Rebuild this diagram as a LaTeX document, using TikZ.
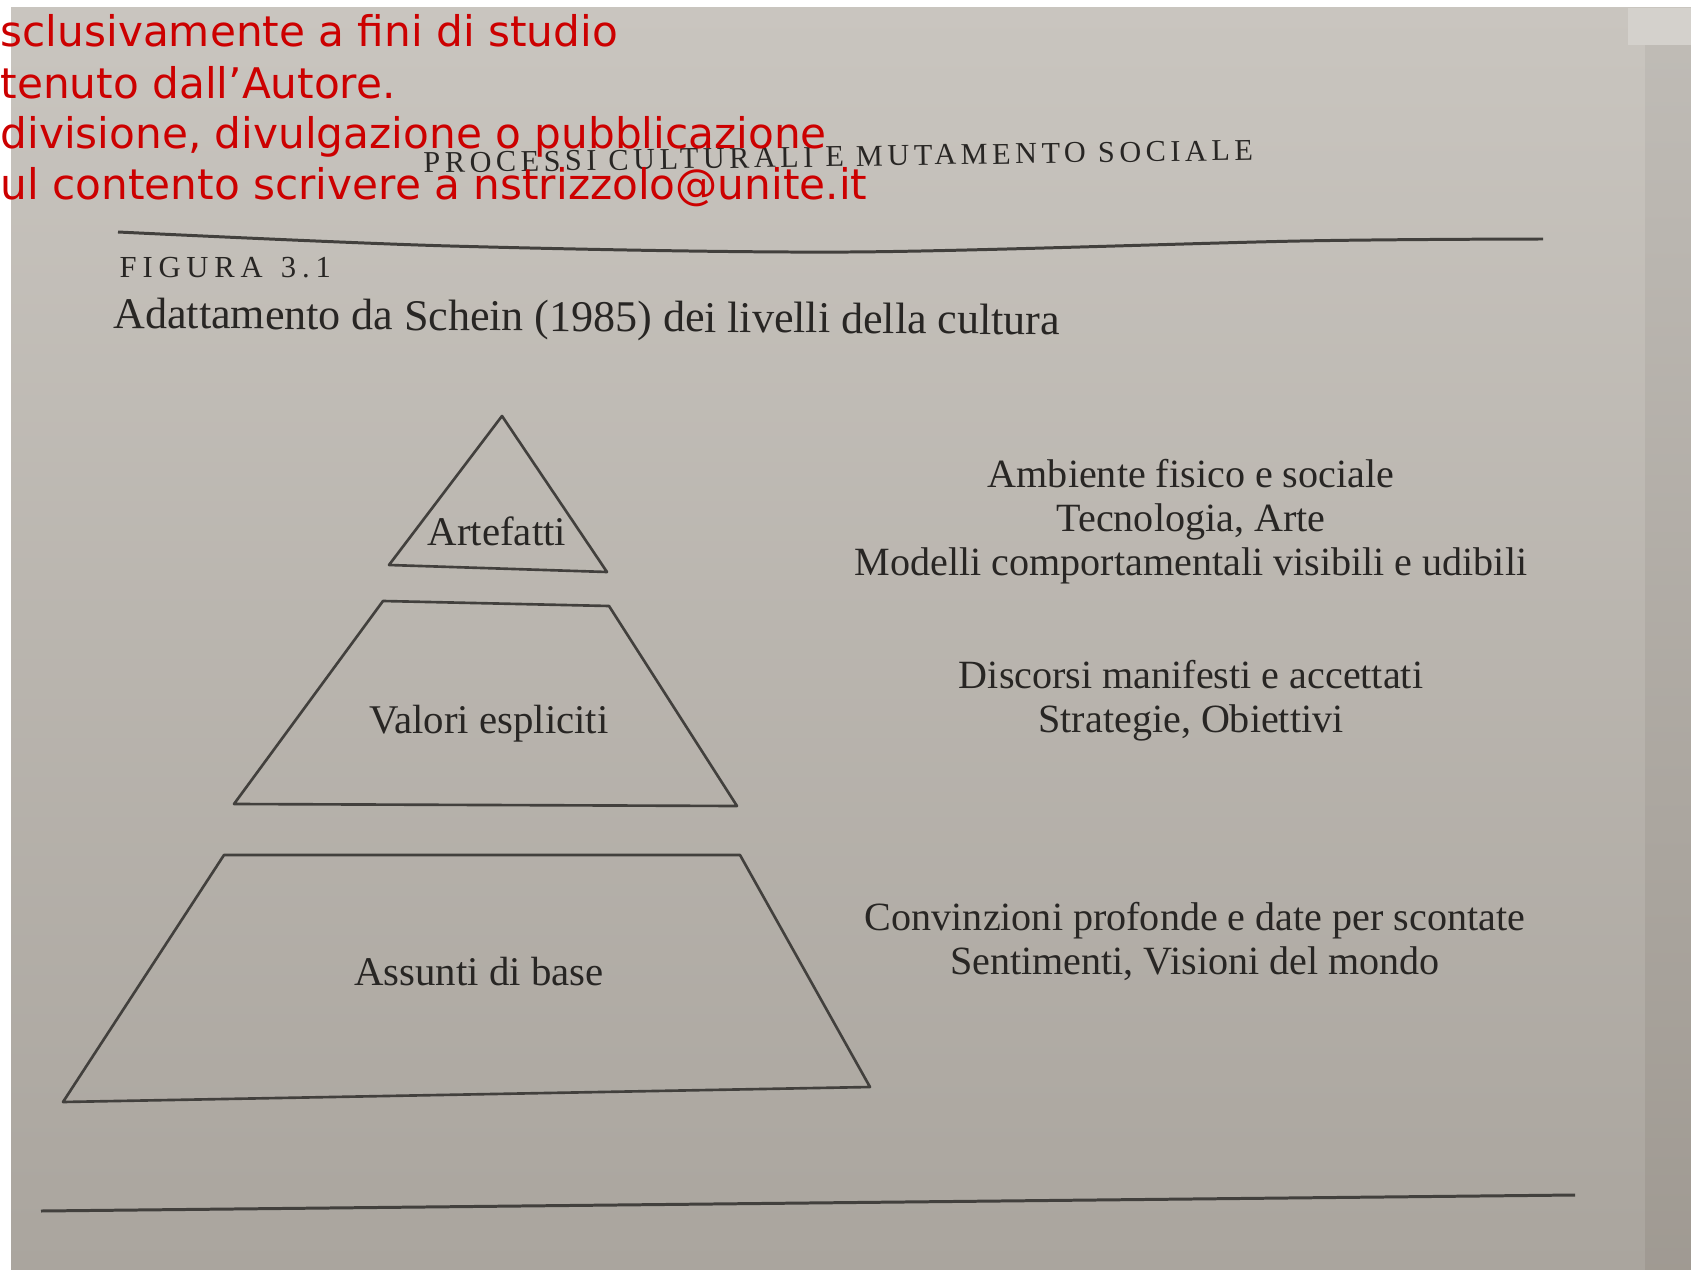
\documentclass[tikz,border=0pt]{standalone}
\usepackage{fontspec}
\setmainfont{Liberation Serif}
\newfontfamily\filigrana{DejaVu Sans}
\usepackage{tikz}
\usetikzlibrary{positioning,calc}
\definecolor{carta}{RGB}{201,197,191}
\definecolor{cartascura}{RGB}{170,165,158}
\definecolor{bordo}{RGB}{168,162,154}
\definecolor{inchiostro}{RGB}{40,38,36}
\definecolor{tratto}{RGB}{66,64,61}
\definecolor{rosso}{RGB}{204,0,0}

\begin{document}
\begin{tikzpicture}[x=0.01cm,y=-0.01cm]
	\tikzset{etichetta/.style={inner sep=0pt,anchor=base,text=inchiostro,font=\fontsize{11.6}{11.7}\selectfont}}
	\tikzset{descrizione/.style={inner sep=0pt,align=center,text=inchiostro,font=\fontsize{11.4}{12.5}\selectfont}}
	\tikzset{avviso/.style={inner sep=0pt,anchor=base west,text=rosso,font=\filigrana\fontsize{12}{14}\selectfont}}
	\tikzset{livello/.style={draw=tratto,line width=0.75pt,line join=round}}
		\useasboundingbox (0,0) rectangle (1691,1270);
		\fill[white] (0,0) rectangle (1691,1270);
		\shade[top color=carta, bottom color=cartascura] (11,8) rectangle (1691,1270);
		\shade[top color=carta!95!black, bottom color=bordo!95!black] (1645,45) rectangle (1691,1270);
		\fill[carta!80!white] (1628,8) rectangle (1691,45);

		\node[inner sep=0pt, anchor=base west, rotate=0.9, text=inchiostro, font=\fontsize{8.6}{10}\selectfont\addfontfeature{LetterSpace=15}] (testata) at (423,173) {PROCESSI CULTURALI E MUTAMENTO SOCIALE};

		\draw[tratto, line width=0.85pt] plot[smooth] coordinates {(118,232) (450,246) (850,252) (1300,241) (1543,239)};
		\draw[tratto, line width=0.85pt] (41,1211) -- (1575,1195);

		\node[inner sep=0pt, anchor=base west, text=inchiostro, font=\fontsize{8.7}{10}\selectfont\addfontfeature{LetterSpace=19}] (figura) at (119,278) {FIGURA\hspace{0.6em}3.1};
		\node[inner sep=0pt, anchor=base west, rotate=-0.4, text=inchiostro, font=\fontsize{12.5}{14}\selectfont] (titolo) at (113,328) {Adattamento da Schein (1985) dei livelli della cultura};

		\draw[livello] (502,416) -- (607,572) -- (389,565) -- cycle;
		\draw[livello] (383,601) -- (609,606) -- (737,806) -- (234,804) -- cycle;
		\draw[livello] (224,855) -- (740,855) -- (870,1087) -- (63,1102) -- cycle;

		\node[etichetta] (artefatti) at (497,545) {Artefatti};
		\node[etichetta] (valori) at (489,733) {Valori espliciti};
		\node[etichetta] (assunti) at (479,985) {Assunti di base};

		\node[descrizione] (descartefatti) at (1191,522) {Ambiente fisico e sociale\\Tecnologia, Arte\\Modelli comportamentali visibili e udibili};
		\node[descrizione] (descvalori) at (1191,701) {Discorsi manifesti e accettati\\Strategie, Obiettivi};
		\node[descrizione] (descassunti) at (1195,941) {Convinzioni profonde e date per scontate\\Sentimenti, Visioni del mondo};

		\node[avviso] (avviso1) at (0,47) {sclusivamente a fini di studio};
		\node[avviso] (avviso2) at (0,99) {tenuto dall’Autore.};
		\node[avviso] (avviso3) at (0,149) {divisione, divulgazione o pubblicazione};
		\node[avviso] (avviso4) at (0,200) {ul contento scrivere a nstrizzolo@unite.it};

	\end{tikzpicture}
\end{document}
